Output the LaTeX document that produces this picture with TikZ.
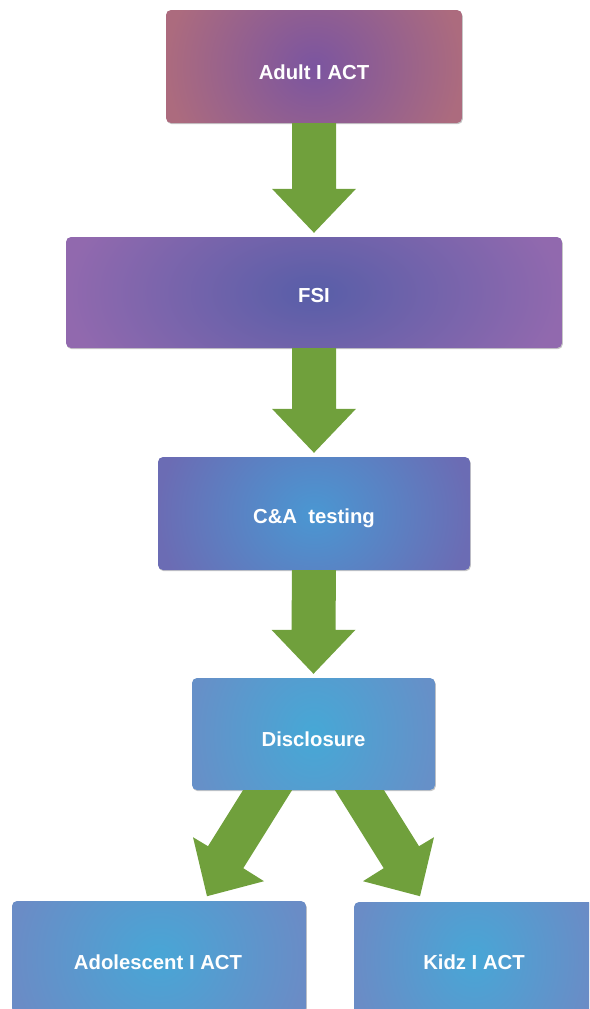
\documentclass[tikz,border=0pt]{standalone}
\usepackage{fontspec}
\setmainfont{Liberation Sans}
\usetikzlibrary{calc,shadows}
\definecolor{aIn}{HTML}{7B55A0}\definecolor{aOut}{HTML}{AC6B7E}
\definecolor{fIn}{HTML}{585EA8}\definecolor{fOut}{HTML}{9169AE}
\definecolor{cIn}{HTML}{4A97D2}\definecolor{cOut}{HTML}{6B6CB4}
\definecolor{dIn}{HTML}{46A8D6}\definecolor{dOut}{HTML}{6690C8}
\definecolor{kIn}{HTML}{48A6D6}\definecolor{kOut}{HTML}{6A8CC6}
\definecolor{arrowgreen}{HTML}{70A03C}
\tikzset{
  box/.style 2 args={rectangle, rounded corners=5pt, inner sep=0pt,
    drop shadow={shadow xshift=0.8pt, shadow yshift=-1.2pt, opacity=0.22, fill=black},
    path picture={\shade[inner color=#1, outer color=#2]
      ([yshift=-80pt]path picture bounding box.south west) rectangle
      ([yshift=80pt]path picture bounding box.north east);}},
  lbl/.style={text=white, font=\bfseries\fontsize{20.3}{24}\selectfont, anchor=base, inner sep=0pt},
  garrow/.style={fill=arrowgreen, draw=none},
}
\newcommand{\vblock}[2]{\fill[garrow] ($(#1.south)+(-22,0)$) -- ($(#2.north)+(-22,-48)$) -- ($(#2.north)+(-42,-48)$) -- ($(#2.north)+(0,-4)$) -- ($(#2.north)+(42,-48)$) -- ($(#2.north)+(22,-48)$) -- ($(#1.south)+(22,0)$) -- cycle;}
\begin{document}
\begin{tikzpicture}[x=1pt,y=-1pt]
\clip (0,0) rectangle (589,1009);
\node[box={aIn}{aOut}, minimum width=296pt, minimum height=113pt] (b1) at (314,66.5) {};
\node[box={fIn}{fOut}, minimum width=496pt, minimum height=111pt] (b2) at (314,292.5) {};
\node[box={cIn}{cOut}, minimum width=312pt, minimum height=113pt] (b3) at (314,513.5) {};
\node[box={dIn}{dOut}, minimum width=243pt, minimum height=112pt] (b4) at (313.5,734) {};
\node[box={kIn}{kOut}, minimum width=294pt, minimum height=112pt] (b5) at (159,957) {};
\node[box={kIn}{kOut}, minimum width=240pt, minimum height=112pt] (b6) at (474,958) {};
\node[lbl] (t1) at (314,79) {Adult I ACT};
\node[lbl] (t2) at (314,302) {FSI};
\node[lbl] (t3) at (314,523) {C\&A\ \ testing};
\node[lbl] (t4) at (313.5,746) {Disclosure};
\node[lbl] (t5) at (158,969) {Adolescent I ACT};
\node[lbl] (t6) at (474,969) {Kidz I ACT};
\vblock{b1}{b2}
\vblock{b2}{b3}
\vblock{b3}{b4}
\fill[garrow] ($(b4.south)+(-70.5,0)$) -- ($(b4.south)+(-105.5,56)$) -- ($(b4.south)+(-120.5,47)$) -- ($(b4.south)+(-106.5,106)$) -- ($(b4.south)+(-49.5,91)$) -- ($(b4.south)+(-70.2,78)$) -- ($(b4.south)+(-21.5,0)$) -- cycle;
\fill[garrow] ($(b4.south)+(70.5,0)$) -- ($(b4.south)+(105.5,56)$) -- ($(b4.south)+(120.5,47)$) -- ($(b4.south)+(106.5,106)$) -- ($(b4.south)+(49.5,91)$) -- ($(b4.south)+(70.2,78)$) -- ($(b4.south)+(21.5,0)$) -- cycle;
\end{tikzpicture}
\end{document}
